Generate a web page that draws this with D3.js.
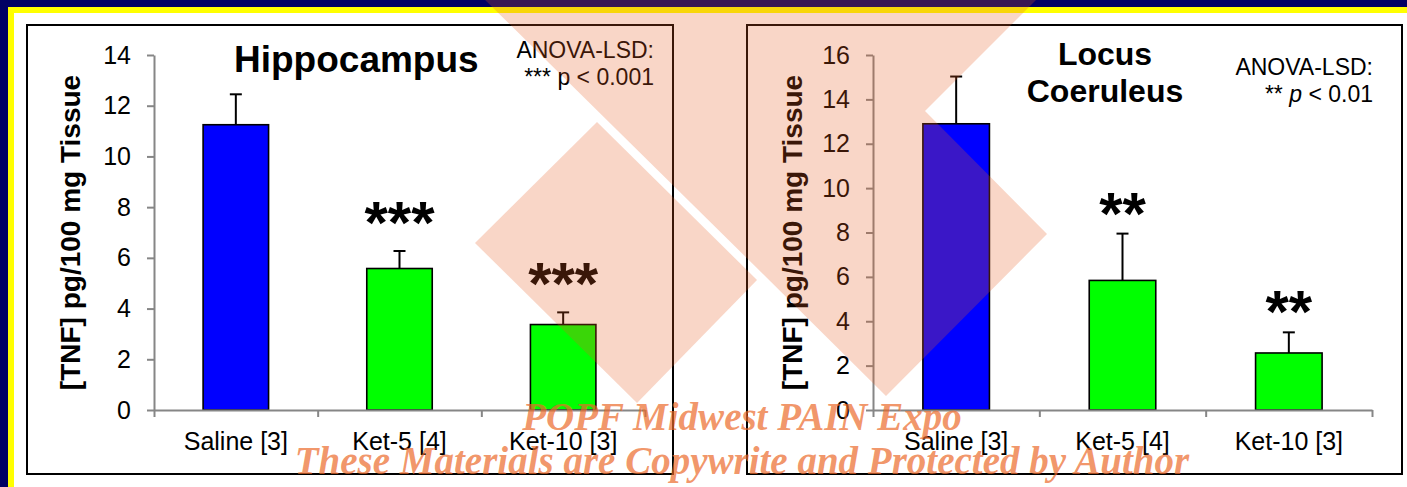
<!DOCTYPE html>
<html>
<head>
<meta charset="utf-8">
<script src="https://cdn.jsdelivr.net/npm/d3@7"></script>
<style>
  html, body { margin: 0; padding: 0; background: #000064; overflow: hidden; }
  svg { display: block; }
  text { font-family: "Liberation Sans", Arial, sans-serif; }
  text.stamp { font-family: "Liberation Serif", "Times New Roman", serif; font-style: italic; font-weight: bold; }
</style>
</head>
<body>
<svg id="fig" width="1407" height="487"></svg>
<script>
// ---- data ----
const categories = ["Saline [3]", "Ket-5 [4]", "Ket-10 [3]"];
const barColors = ["#0000ff", "#00ff00", "#00ff00"];

const hippoMeans = [11.25, 5.58, 3.37];
const hippoErrors = [1.2, 0.69, 0.48];
const hippoStars = ["", "***", "***"];
const hippoTicks = [0, 2, 4, 6, 8, 10, 12, 14];

const lcMeans = [12.9, 5.84, 2.57];
const lcErrors = [2.13, 2.11, 0.93];
const lcStars = ["", "**", "**"];
const lcTicks = [0, 2, 4, 6, 8, 10, 12, 14, 16];

const yTitle = "[TNF] pg/100 mg Tissue";

const svg = d3.select("#fig");

// ---- slide frame: navy edge, yellow rule, white field ----
svg.append("rect").attr("width", 1407).attr("height", 487).attr("fill", "#000064");
svg.append("rect").attr("x", 8).attr("y", 7).attr("width", 1399).attr("height", 480).attr("fill", "#ffff00");
svg.append("rect").attr("x", 14).attr("y", 13).attr("width", 1393).attr("height", 474).attr("fill", "#ffffff");

function drawPanel(cfg) {
  const g = svg.append("g");

  g.append("rect")
    .attr("x", cfg.box[0]).attr("y", cfg.box[1])
    .attr("width", cfg.box[2]).attr("height", cfg.box[3])
    .attr("fill", "none").attr("stroke", "#000").attr("stroke-width", 2);

  const y = d3.scaleLinear().domain([0, cfg.yMax]).range([cfg.bottom, cfg.top]);
  const x = d3.scaleBand().domain(categories).range([cfg.left, cfg.right]);
  const xEdge = d3.scaleLinear().domain([0, categories.length]).range([cfg.left, cfg.right]);
  const barW = x.bandwidth() * 0.4;

  const rows = categories.map((c, i) => ({
    cat: c, mean: cfg.means[i], err: cfg.errors[i], star: cfg.stars[i], color: barColors[i]
  }));

  // bars
  g.selectAll("rect.bar").data(rows).enter().append("rect")
    .attr("class", "bar")
    .attr("x", d => x(d.cat) + (x.bandwidth() - barW) / 2)
    .attr("width", barW)
    .attr("y", d => y(d.mean))
    .attr("height", d => y(0) - y(d.mean))
    .attr("fill", d => d.color)
    .attr("stroke", "#000").attr("stroke-width", 1.6);

  // upper error bars
  const eb = g.selectAll("g.err").data(rows).enter().append("g").attr("class", "err")
    .attr("stroke", "#000").attr("stroke-width", 2);
  eb.append("line")
    .attr("x1", d => x(d.cat) + x.bandwidth() / 2).attr("x2", d => x(d.cat) + x.bandwidth() / 2)
    .attr("y1", d => y(d.mean)).attr("y2", d => y(d.mean + d.err));
  eb.append("line")
    .attr("x1", d => x(d.cat) + x.bandwidth() / 2 - 6).attr("x2", d => x(d.cat) + x.bandwidth() / 2 + 6)
    .attr("y1", d => y(d.mean + d.err)).attr("y2", d => y(d.mean + d.err));

  // significance marks
  g.selectAll("text.star").data(rows.filter(d => d.star)).enter().append("text")
    .attr("class", "star")
    .attr("x", d => x(d.cat) + x.bandwidth() / 2)
    .attr("y", d => y(d.mean + d.err) - cfg.starGap)
    .attr("text-anchor", "middle")
    .attr("font-weight", "bold")
    .attr("font-size", 60)
    .text(d => d.star);

  // y axis
  const yAxis = g.append("g").attr("transform", `translate(${cfg.left},0)`)
    .call(d3.axisLeft(y).tickValues(cfg.ticks).tickSize(7).tickSizeOuter(0).tickPadding(16));
  yAxis.selectAll("path, line").attr("stroke", "#868686").attr("stroke-width", 2);
  yAxis.selectAll("text").attr("font-size", 25).attr("fill", "#000");

  // x axis: tick marks on category boundaries
  const xAxis = g.append("g").attr("transform", `translate(0,${cfg.bottom})`)
    .call(d3.axisBottom(xEdge).tickValues(d3.range(categories.length + 1)).tickFormat("")
      .tickSize(7).tickSizeOuter(0));
  xAxis.selectAll("path, line").attr("stroke", "#868686").attr("stroke-width", 2);

  // category labels
  const xLab = g.append("g").attr("transform", `translate(0,${cfg.bottom})`)
    .call(d3.axisBottom(x).tickSize(0).tickPadding(22));
  xLab.select(".domain").remove();
  xLab.selectAll("text").attr("font-size", 25).attr("fill", "#000");

  // y title
  g.append("text")
    .attr("transform", `translate(${cfg.yTitleX},${(cfg.top + cfg.bottom) / 2}) rotate(-90)`)
    .attr("text-anchor", "middle")
    .attr("font-weight", "bold").attr("font-size", 28)
    .text(yTitle);

  // chart title
  cfg.title.forEach((t, i) => {
    g.append("text")
      .attr("x", cfg.titleX).attr("y", cfg.titleY + i * cfg.titleStep)
      .attr("text-anchor", cfg.titleAnchor)
      .attr("font-weight", "bold").attr("font-size", cfg.titleSize)
      .text(t);
  });

  // statistics note
  g.append("text")
    .attr("x", cfg.noteX).attr("y", cfg.noteY)
    .attr("text-anchor", "end").attr("font-size", 23)
    .text("ANOVA-LSD:");
  const p = g.append("text")
    .attr("x", cfg.noteX).attr("y", cfg.noteY + 27)
    .attr("text-anchor", "end").attr("font-size", 23);
  p.append("tspan").text(cfg.noteStars + " ");
  p.append("tspan").attr("font-style", cfg.italicP ? "italic" : "normal").text("p");
  p.append("tspan").text(" < " + cfg.pValue);
}

drawPanel({
  box: [27, 25, 646, 449],
  left: 154, right: 645, top: 55, bottom: 410,
  yMax: 14, ticks: hippoTicks,
  means: hippoMeans, errors: hippoErrors, stars: hippoStars, starGap: 8,
  yTitleX: 80,
  title: ["Hippocampus"], titleX: 234, titleY: 72, titleStep: 0, titleAnchor: "start", titleSize: 37,
  noteX: 654, noteY: 58, noteStars: "***", pValue: "0.001", italicP: false
});

drawPanel({
  box: [747, 25, 655, 449],
  left: 873, right: 1372, top: 55, bottom: 410,
  yMax: 16, ticks: lcTicks,
  means: lcMeans, errors: lcErrors, stars: lcStars, starGap: 0,
  yTitleX: 802,
  title: ["Locus", "Coeruleus"], titleX: 1105, titleY: 65, titleStep: 37, titleAnchor: "middle", titleSize: 32,
  noteX: 1373, noteY: 75, noteStars: "**", pValue: "0.01", italicP: true
});

// ---- translucent logo overlay ----
const logoShapes = [
  [[480, -5], [763, 274], [886, 396], [1047, 234], [925, 111], [1041, -5]],
  [[475, 243], [597, 122], [757, 280], [637, 403]]
];
svg.append("g").selectAll("path").data(logoShapes).enter().append("path")
  .attr("d", d => d3.line()(d) + "Z")
  .attr("fill", "rgb(232,90,30)")
  .attr("fill-opacity", 0.25);

const stampLines = ["POPF Midwest PAIN Expo", "These Materials are Copywrite and Protected by Author"];
svg.append("g").selectAll("text").data(stampLines).enter().append("text")
  .attr("class", "stamp")
  .attr("x", 742)
  .attr("y", (d, i) => 430 + i * 44)
  .attr("text-anchor", "middle")
  .attr("font-size", 39)
  .attr("fill", "rgb(236,104,40)").attr("fill-opacity", 0.7)
  .text(d => d);
</script>
</body>
</html>
